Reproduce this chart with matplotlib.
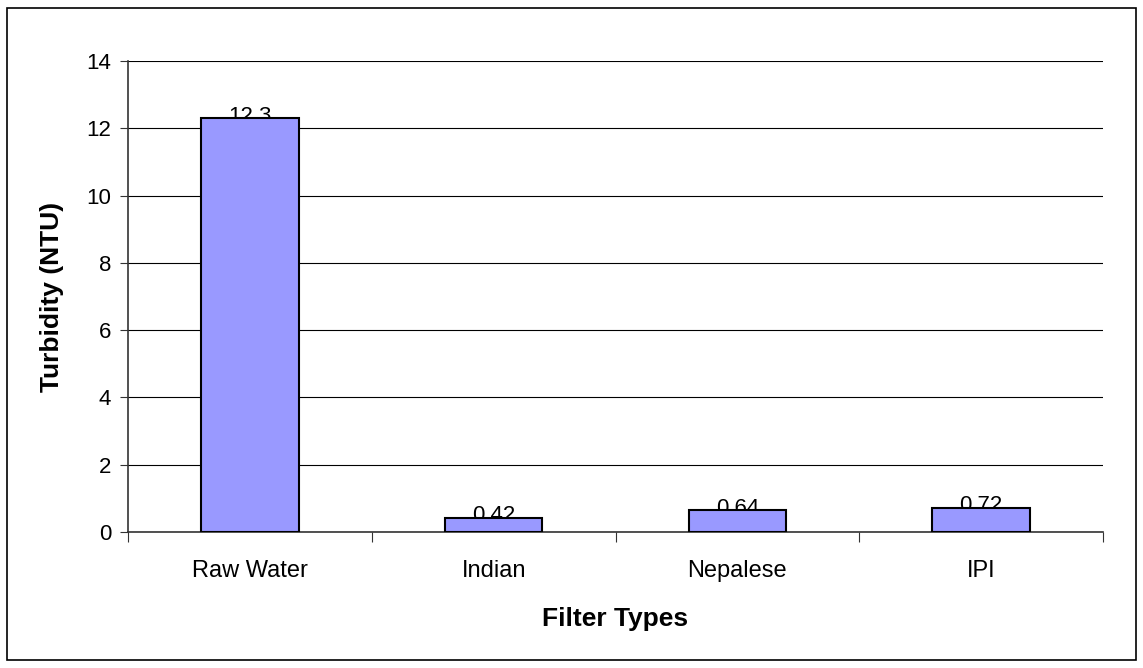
import matplotlib
matplotlib.use("Agg")
import matplotlib.pyplot as plt
from matplotlib.patches import Rectangle
from matplotlib.transforms import offset_copy

filters = ["Raw Water", "Indian", "Nepalese", "IPI"]
turbidity = [12.3, 0.42, 0.64, 0.72]
value_labels = ["12.3", "0.42", "0.64", "0.72"]
y_ticks = [0, 2, 4, 6, 8, 10, 12, 14]

plt.rcParams["font.family"] = ["Liberation Sans", "DejaVu Sans"]

fig = plt.figure(figsize=(11.43, 6.68), dpi=100)
# outer chart frame
fig.patches.append(Rectangle((7 / 1143, 8 / 668), 1129 / 1143, 652 / 668,
                             transform=fig.transFigure, fill=False,
                             edgecolor="black", linewidth=1.2))

ax = fig.add_axes([128 / 1143, 136 / 668, 975 / 1143, 471 / 668])
x = range(len(filters))
ax.bar(x, turbidity, width=0.4, color="#9999FF", edgecolor="black",
       linewidth=1.5, zorder=3)
# labels sit behind the bars, so only their upper part shows
lbl_tr = offset_copy(ax.transData, fig=fig, y=1.5, units="points")
for i, (v, s) in enumerate(zip(turbidity, value_labels)):
    ax.text(i, v, s, ha="center", va="center", fontsize=16, zorder=2,
            transform=lbl_tr)

ax.set_xlim(-0.5, 3.5)
ax.set_ylim(0, 14)
ax.set_yticks(y_ticks)
ax.yaxis.grid(True, color="black", linewidth=0.8, zorder=1)
ax.set_axisbelow(True)
ax.set_xticks([i - 0.5 for i in range(len(filters) + 1)])
ax.set_xticklabels([])
ax.set_xticks(list(x), minor=True)
ax.set_xticklabels(filters, minor=True, fontsize=17)
ax.tick_params(axis="x", which="minor", length=0, pad=20)
ax.tick_params(axis="x", which="major", length=7, color="#333333")
ax.tick_params(axis="y", length=6, labelsize=16, color="#333333", pad=6)
for side in ("top", "right"):
    ax.spines[side].set_visible(False)
for side in ("left", "bottom"):
    ax.spines[side].set_color("#333333")
    ax.spines[side].set_linewidth(1.2)

ax.set_ylabel("Turbidity (NTU)", fontsize=19, fontweight="bold", labelpad=16)
ax.set_xlabel("Filter Types", fontsize=19, fontweight="bold", labelpad=18)

fig.savefig("out.png", dpi=100)
